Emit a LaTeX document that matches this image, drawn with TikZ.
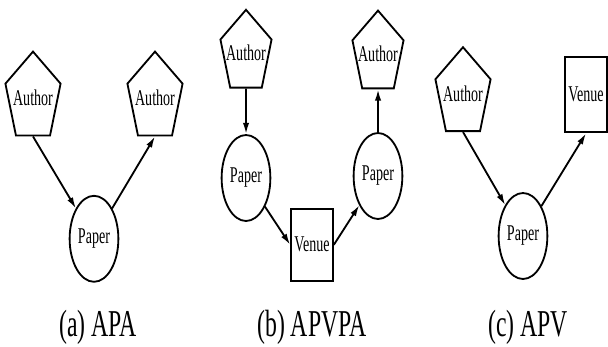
\documentclass[tikz,border=0pt]{standalone}
\usepackage{fontspec}
\setmainfont{Liberation Serif}
\usetikzlibrary{shapes.geometric,arrows.meta}
\newcommand{\zw}[1]{\makebox[0pt]{#1}}

\begin{document}
\begin{tikzpicture}[xscale=0.625, transform shape, >={Latex[length=8pt,width=4.5pt]},
                  every node/.style={inner sep=0pt, line width=1.3pt,
                  font=\fontsize{16}{18}\selectfont},
                  author/.style={draw, regular polygon, regular polygon sides=5,
                  minimum size=2.32cm},
                  paper/.style={draw, ellipse, minimum width=1.95cm, minimum height=2.15cm},
                  venue/.style={draw, rectangle, minimum width=1.7cm, minimum height=1.8cm},
                  subcap/.style={anchor=base, font=\fontsize{27}{30}\selectfont}]
  \useasboundingbox (0,0) rectangle (24.32,8.65);
  % (a) APA
  \node[author] (a1) at (1.32,6.2) {\zw{Author}};
  \node[author] (a2) at (6.2,6.2) {\zw{Author}};
  \node[paper] (pa) at (3.76,2.68) {Paper};
  \node[subcap] (capa) at (3.92,0.23) {(a) APA};
  \draw[->, line width=1.3pt] (a1.south) -- (pa);
  \draw[->, line width=1.3pt] (pa) -- (a2.south);
  % (b) APVPA
  \node[author, minimum size=2.15cm] (b1) at (9.84,7.33) {\zw{Author}};
  \node[paper] (pb1) at (9.84,4.2) {Paper};
  \node[venue] (vb) at (12.48,2.53) {Venue};
  \node[paper] (pb2) at (15.12,4.25) {Paper};
  \node[author, minimum size=2.15cm] (b2) at (15.12,7.31) {\zw{Author}};
  \node[subcap] (capb) at (12.48,0.23) {(b) APVPA};
  \draw[->, line width=1.3pt] (b1.south) -- (pb1);
  \draw[->, line width=1.3pt] (pb1) -- (vb.west);
  \draw[->, line width=1.3pt] (vb.east) -- (pb2);
  \draw[->, line width=1.3pt] (pb2) -- (b2.south);
  % (c) APV
  \node[author] (c1) at (18.52,6.31) {\zw{Author}};
  \node[venue, minimum height=1.88cm] (vc) at (23.44,6.28) {Venue};
  \node[paper] (pc) at (20.92,2.75) {Paper};
  \node[subcap] (capc) at (21.12,0.23) {(c) APV};
  \draw[->, line width=1.3pt] (c1.south) -- (pc);
  \draw[->, line width=1.3pt] (pc) -- (vc.south);
\end{tikzpicture}
\end{document}
